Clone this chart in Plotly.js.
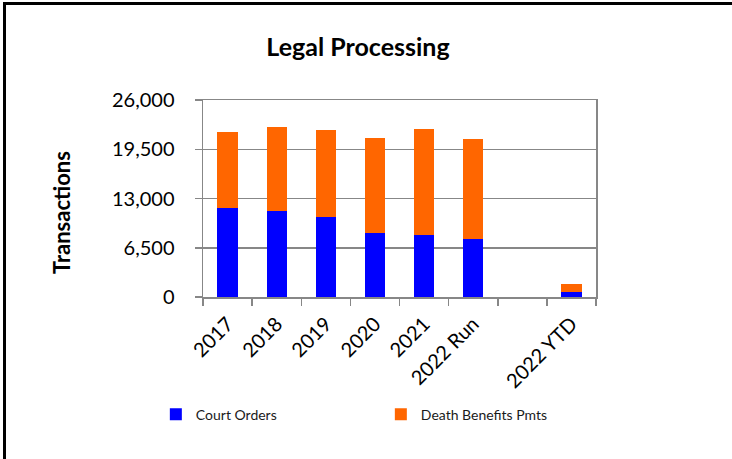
<!DOCTYPE html>
<html>
<head>
<meta charset="utf-8">
<script src="https://cdn.plot.ly/plotly-3.0.1.min.js"></script>
<style>
  html, body { margin: 0; padding: 0; background: #fff; }
  #wrap { position: relative; width: 732px; height: 459px; overflow: hidden; }
  #chart { position: absolute; left: 0; top: 0; width: 732px; height: 459px; }
  .edge { position: absolute; background: #000; pointer-events: none; }
</style>
</head>
<body>
<div id="wrap">
  <div id="chart"></div>
  <div class="edge" style="left:3px; top:2px; width:729px; height:3px;"></div>
  <div class="edge" style="left:3px; top:2px; width:3px; height:457px;"></div>
</div>
<script>
// ---- data ----
var categories = ["2017", "2018", "2019", "2020", "2021", "2022 Run", " ", "2022 YTD"];
var courtOrders = [11770, 11410, 10620, 8510, 8170, 7720, null, 610];
var deathBenefits = [10010, 11030, 11430, 12440, 14010, 13140, null, 1100];
var seriesNames = ["Court Orders", "Death Benefits Pmts"];
var yTickVals = [0, 6500, 13000, 19500, 26000];
var chartTitle = "Legal Processing";
var yTitle = "Transactions";

var FONT = "Lato, 'Open Sans', sans-serif";
var GRID = "#878787";

var traces = [
  { type: "bar", name: seriesNames[0], x: categories, y: courtOrders,
    marker: { color: "#0000FF", line: { width: 0 } } },
  { type: "bar", name: seriesNames[1], x: categories, y: deathBenefits,
    marker: { color: "#FF6600", line: { width: 0 } } }
];

var layout = {
  width: 732, height: 459,
  margin: { l: 203, r: 136, t: 100, b: 162, pad: 0 },
  paper_bgcolor: "#fff", plot_bgcolor: "#fff",
  barmode: "stack",
  bargap: 0.59,
  font: { family: FONT, color: "#000" },
  title: { text: "<b>" + chartTitle + "</b>", font: { family: FONT, size: 25, color: "#000" },
           x: 358 / 732, xref: "container", xanchor: "center",
           y: 1 - 47 / 459, yref: "container", yanchor: "middle" },
  xaxis: {
    type: "category", categoryorder: "array", categoryarray: categories,
    tickangle: -45, tickfont: { family: FONT, size: 20, color: "#000" },
    ticks: "outside", ticklen: 7, tickwidth: 1.5, tickcolor: GRID,
    tickson: "boundaries",
    showline: true, linecolor: GRID, linewidth: 1.5, mirror: true,
    showgrid: false, zeroline: false, fixedrange: true,
    ticklabelstandoff: 6
  },
  yaxis: {
    range: [0, 26000], tickvals: yTickVals, tickformat: ",d",
    tickfont: { family: FONT, size: 20, color: "#000" },
    ticks: "outside", ticklen: 7, tickwidth: 1.5, tickcolor: GRID,
    showline: true, linecolor: GRID, linewidth: 1.5, mirror: true,
    showgrid: true, gridcolor: GRID, gridwidth: 1.5,
    zeroline: false, fixedrange: true,
    ticklabelstandoff: 16
  },
  showlegend: true,
  legend: {
    orientation: "h", x: -0.12, xanchor: "left", y: -0.597, yanchor: "middle",
    entrywidth: 180, entrywidthmode: "pixels",
    font: { family: FONT, size: 14, color: "#1a1a1a" },
    bgcolor: "rgba(0,0,0,0)", traceorder: "normal"
  },
  annotations: [
    { text: "<b>" + yTitle + "</b>", textangle: -90, showarrow: false,
      xref: "paper", yref: "paper", x: -0.3585, y: 0.427,
      xanchor: "center", yanchor: "middle",
      font: { family: FONT, size: 22, color: "#000" } }
  ]
};

Plotly.newPlot("chart", traces, layout, { displayModeBar: false, staticPlot: true });
</script>
</body>
</html>
